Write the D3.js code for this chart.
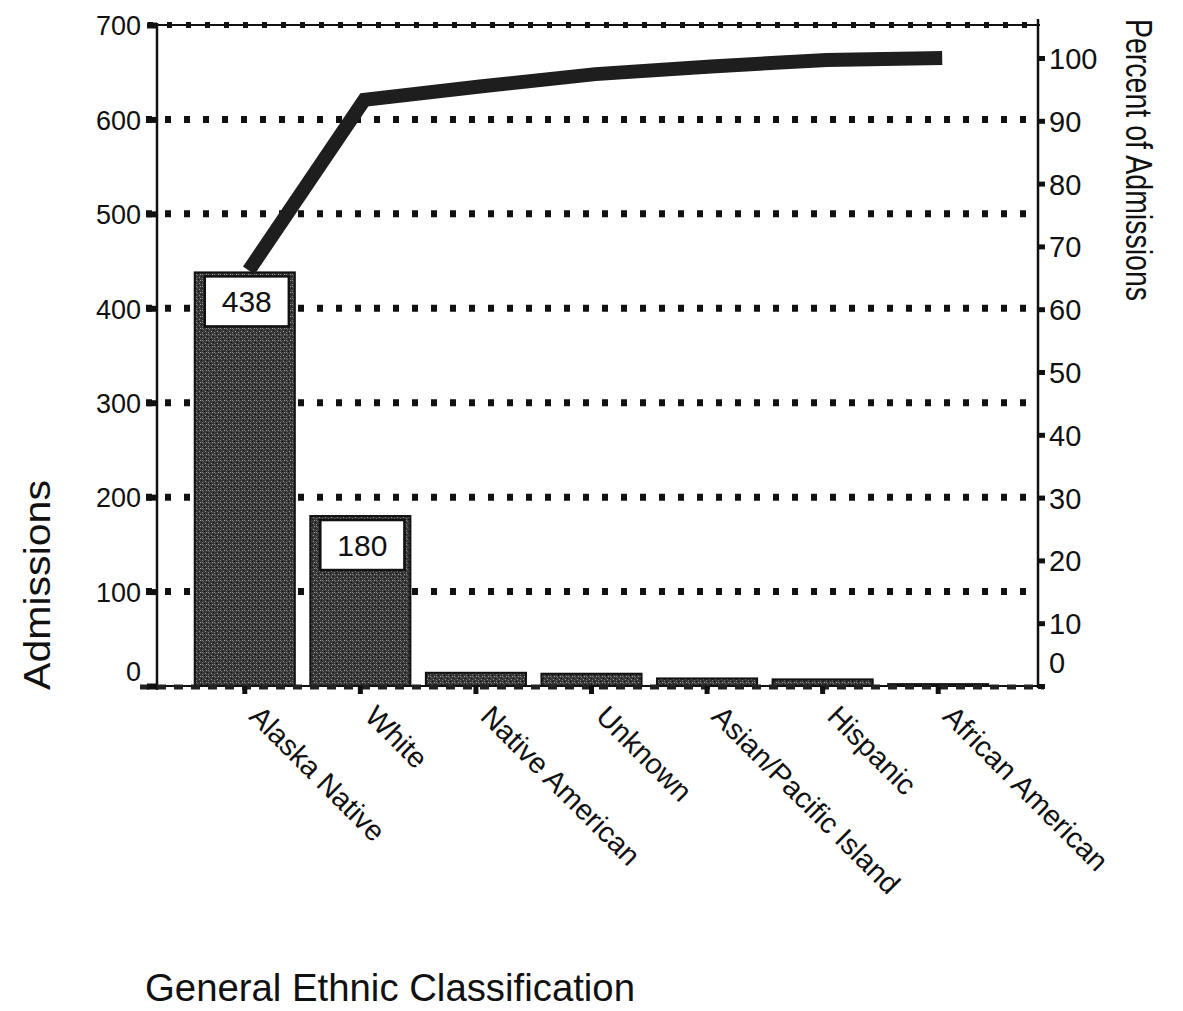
<!DOCTYPE html>
<html>
<head>
<meta charset="utf-8">
<script src="https://cdn.jsdelivr.net/npm/d3@7"></script>
<style>
  html, body { margin: 0; padding: 0; background: #ffffff; }
  svg { display: block; font-family: "Liberation Sans", Arial, Helvetica, sans-serif; }
</style>
</head>
<body>
<svg id="chart" width="1183" height="1011"></svg>
<script>
// ---- data ----
const categories = ["Alaska Native", "White", "Native American", "Unknown", "Asian/Pacific Island", "Hispanic", "African American"];
const admissions = [438, 180, 14, 13, 8, 7, 2];
const labeledValues = [438, 180, null, null, null, null, null];
const leftTicks = [0, 100, 200, 300, 400, 500, 600, 700];
const gridValues = [100, 200, 300, 400, 500, 600];
const rightTicks = [0, 10, 20, 30, 40, 50, 60, 70, 80, 90, 100];

const total = d3.sum(admissions);
let run = 0;
const cumulativePct = admissions.map(v => { run += v; return run / total * 100; });

// ---- scales ----
const svg = d3.select("#chart");
const yL = d3.scaleLinear().domain([0, 700]).range([686, 25]);
const yR = d3.scaleLinear().domain([0, 100]).range([686, 58]);
const x = d3.scaleBand().domain(categories).range([187, 996]).paddingInner(0.134).paddingOuter(0.067);

const axisLeftX = 157, axisRightX = 1038;

// pattern (stipple)
const defs = svg.append("defs");
const pat = defs.append("pattern").attr("id", "stip").attr("width", 6).attr("height", 6).attr("patternUnits", "userSpaceOnUse");
pat.append("rect").attr("width", 6).attr("height", 6).attr("fill", "#383838");
[[1,1,"#9a9a9a"],[4,2,"#7e7e7e"],[2,4,"#a5a5a5"],[5,5,"#6a6a6a"],[0,3,"#111"],[3,0,"#141414"],[4,4,"#8a8a8a"]].forEach(([px,py,c]) =>
  pat.append("rect").attr("x", px).attr("y", py).attr("width", 1).attr("height", 1).attr("fill", c));

// ---- gridlines (dotted) ----
svg.append("g").selectAll("line").data(gridValues).join("line")
  .attr("x1", 146).attr("x2", 1032)
  .attr("y1", d => yL(d)).attr("y2", d => yL(d))
  .attr("stroke", "#111").attr("stroke-width", 7).attr("stroke-dasharray", "6,13");

// top frame line with dots
svg.append("line").attr("x1", 148).attr("x2", axisRightX + 2).attr("y1", yL(700)).attr("y2", yL(700))
  .attr("stroke", "#111").attr("stroke-width", 2);
svg.append("line").attr("x1", 148).attr("x2", axisRightX).attr("y1", yL(700)).attr("y2", yL(700))
  .attr("stroke", "#111").attr("stroke-width", 6).attr("stroke-dasharray", "5,14");

// ---- bars ----
const bars = svg.append("g");
bars.selectAll("rect").data(admissions).join("rect")
  .attr("x", (d, i) => x(categories[i]))
  .attr("width", x.bandwidth())
  .attr("y", d => yL(d))
  .attr("height", d => yL(0) - yL(d))
  .attr("fill", "url(#stip)")
  .attr("stroke", "#111").attr("stroke-width", 2);

// value label boxes
const lab = svg.append("g");
labeledValues.forEach((v, i) => {
  if (v == null) return;
  const bx = x(categories[i]) + 10, bw = x.bandwidth() - 16;
  const by = yL(v) + 4;
  lab.append("rect").attr("x", bx).attr("y", by).attr("width", bw).attr("height", 50)
    .attr("fill", "#fff").attr("stroke", "#111").attr("stroke-width", 2.5);
  lab.append("text").attr("x", bx + bw / 2).attr("y", by + 36)
    .attr("text-anchor", "middle").attr("font-size", 30).attr("fill", "#111").text(v);
});

// ---- cumulative line ----
const line = d3.line().x((d, i) => x(categories[i]) + x.bandwidth() / 2 + 4).y(d => yR(d));
svg.append("path").datum(cumulativePct).attr("d", line)
  .attr("fill", "none").attr("stroke", "#1e1e1e").attr("stroke-width", 14)
  .attr("stroke-linejoin", "miter");

// ---- axes ----
svg.append("line").attr("x1", axisLeftX).attr("x2", axisLeftX).attr("y1", yL(700) - 2).attr("y2", yL(0) + 4)
  .attr("stroke", "#111").attr("stroke-width", 2.5);
svg.append("line").attr("x1", axisRightX).attr("x2", axisRightX).attr("y1", yL(700) - 6).attr("y2", yL(0) + 2)
  .attr("stroke", "#111").attr("stroke-width", 2.5);
svg.append("line").attr("x1", 140).attr("x2", axisRightX + 6).attr("y1", yL(0)).attr("y2", yL(0))
  .attr("stroke", "#111").attr("stroke-width", 2);
svg.append("line").attr("x1", 140).attr("x2", axisRightX + 6).attr("y1", yL(0) + 1).attr("y2", yL(0) + 1)
  .attr("stroke", "#222").attr("stroke-width", 5).attr("stroke-dasharray", "9,8");

const gl = svg.append("g").attr("transform", `translate(${axisLeftX},0)`)
  .call(d3.axisLeft(yL).tickValues(leftTicks).tickSize(10).tickPadding(6));
gl.select(".domain").remove();
gl.selectAll(".tick line").attr("stroke", "#111").attr("stroke-width", 6);
gl.selectAll(".tick text").attr("font-size", 27).attr("fill", "#111")
  .attr("font-family", "Liberation Sans, Arial, sans-serif")
  .attr("dy", d => d === 0 ? "-0.2em" : "0.36em");

const gr = svg.append("g").attr("transform", `translate(${axisRightX},0)`)
  .call(d3.axisRight(yR).tickValues(rightTicks).tickSize(7).tickPadding(4));
gr.select(".domain").remove();
gr.selectAll(".tick line").attr("stroke", "#111").attr("stroke-width", 5);
gr.selectAll(".tick text").attr("font-size", 29).attr("fill", "#111")
  .attr("font-family", "Liberation Sans, Arial, sans-serif")
  .attr("dy", d => d === 0 ? "-0.45em" : "0.36em");

const gb = svg.append("g").attr("transform", `translate(0,${yL(0)})`)
  .call(d3.axisBottom(x).tickSize(8).tickFormat(""));
gb.select(".domain").remove();
gb.selectAll(".tick line").attr("stroke", "#111").attr("stroke-width", 5);

svg.append("g").selectAll("text").data(categories).join("text")
  .attr("transform", d => `translate(${x(d) + x.bandwidth() / 2 + 3},${718}) rotate(45)`)
  .attr("text-anchor", "start").attr("font-size", 29).attr("fill", "#111")
  .text(d => d);

svg.append("text").attr("transform", "translate(50,585) rotate(-90)")
  .attr("text-anchor", "middle").attr("font-size", 36).attr("fill", "#111")
  .attr("textLength", 210).attr("lengthAdjust", "spacingAndGlyphs")
  .text("Admissions");
svg.append("text").attr("transform", "translate(1126,160) rotate(90)")
  .attr("text-anchor", "middle").attr("font-size", 36).attr("fill", "#111")
  .attr("textLength", 282).attr("lengthAdjust", "spacingAndGlyphs")
  .text("Percent of Admissions");
svg.append("text").attr("x", 390).attr("y", 1001)
  .attr("text-anchor", "middle").attr("font-size", 38).attr("fill", "#111")
  .attr("textLength", 490).attr("lengthAdjust", "spacingAndGlyphs")
  .text("General Ethnic Classification");
</script>
</body>
</html>
